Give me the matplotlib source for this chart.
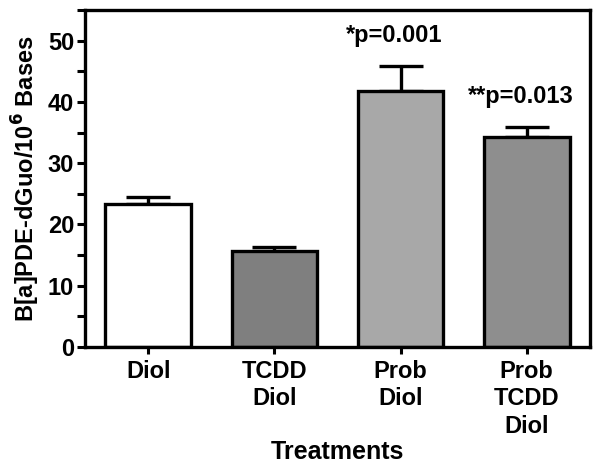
import matplotlib

matplotlib.use("Agg")
import matplotlib.pyplot as plt
from matplotlib.ticker import MultipleLocator

plt.rcParams["font.family"] = ["Liberation Sans", "DejaVu Sans"]
plt.rcParams["font.weight"] = "bold"

# data
treatments = ["Diol", "TCDD\nDiol", "Prob\nDiol", "Prob\nTCDD\nDiol"]
adducts = [23.4, 15.7, 41.7, 34.3]
sem = [1.1, 0.7, 4.2, 1.6]
bar_colors = ["#ffffff", "#7f7f7f", "#a8a8a8", "#8e8e8e"]
p_labels = [None, None, "*p=0.001", "**p=0.013"]

fig = plt.figure(figsize=(6.0, 4.71), dpi=100)
ax = fig.add_axes([0.142, 0.263, 0.841, 0.716])

x = range(len(treatments))
ax.bar(x, adducts, width=0.68, color=bar_colors, edgecolor="black",
       linewidth=2.4, zorder=2)
ax.errorbar(x, adducts, yerr=[[0] * len(sem), sem], fmt="none",
            ecolor="black", elinewidth=2.4, capsize=16, capthick=2.4, zorder=1)

for i, lab in enumerate(p_labels):
    if lab:
        ax.text(i - 0.05, adducts[i] + sem[i] + 3.1, lab,
                ha="center", va="bottom", fontsize=17, fontweight="bold")

ax.set_xlim(-0.5, 3.5)
ax.set_ylim(0, 55)
ax.yaxis.set_major_locator(MultipleLocator(10))
ax.yaxis.set_minor_locator(MultipleLocator(5))
ax.set_xticks(list(x))
ax.set_xticklabels(treatments, fontsize=17, fontweight="bold", linespacing=1.25)
for lab in ax.get_yticklabels():
    lab.set_fontsize(17)
    lab.set_fontweight("bold")

ax.tick_params(axis="both", which="both", direction="out", width=2.2)
ax.tick_params(axis="y", which="both", length=6, pad=2)
ax.tick_params(axis="x", length=5, pad=4)
for sp in ax.spines.values():
    sp.set_linewidth(2.4)

ax.set_ylabel("B[a]PDE-dGuo/10$^\\mathbf{6}$ Bases", fontsize=17,
              fontweight="bold", labelpad=4)
ax.set_xlabel("Treatments", fontsize=18, fontweight="bold", labelpad=2)

fig.savefig("out.png", dpi=100)
